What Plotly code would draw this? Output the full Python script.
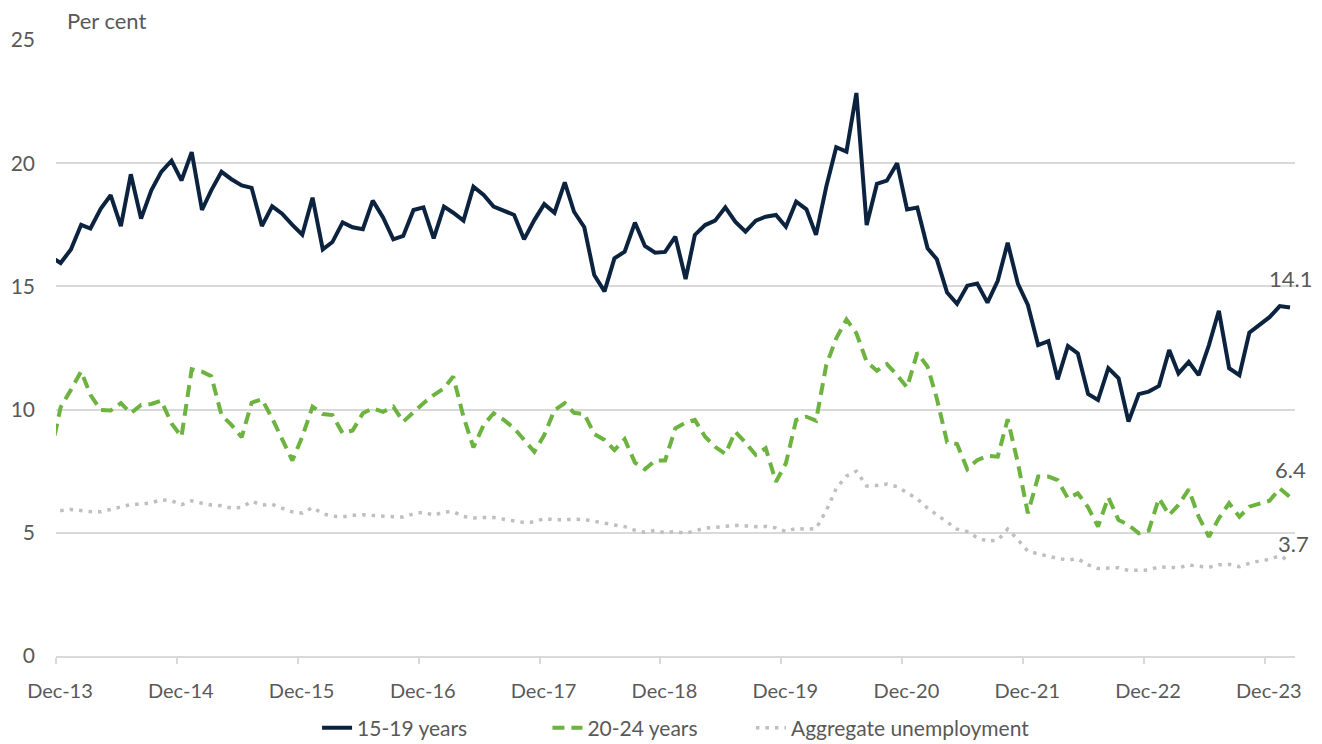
import pandas as pd
import plotly.graph_objects as go

# Monthly observations, Nov-13 to Feb-24 (plotted mid-month)
months = pd.date_range("2013-11-01", periods=124, freq="MS") + pd.Timedelta(days=14)

youth_15_19 = [
    16.2,
    15.95, 16.5, 17.5, 17.35, 18.15, 18.7, 17.45, 19.55, 17.75, 18.9, 19.65, 20.1,
    19.3, 20.45, 18.1, 18.9, 19.65, 19.35, 19.1, 19.0, 17.45, 18.25, 17.95, 17.5,
    17.1, 18.6, 16.5, 16.8, 17.6, 17.4, 17.32, 18.48, 17.8, 16.91, 17.05, 18.1,
    18.21, 16.95, 18.24, 17.99, 17.67, 19.05, 18.71, 18.24, 18.07, 17.9, 16.91, 17.69,
    18.34, 17.99, 19.22, 18.03, 17.4, 15.46, 14.8, 16.14, 16.41, 17.59, 16.64, 16.37,
    16.4, 17.02, 15.3, 17.09, 17.49, 17.67, 18.21, 17.63, 17.22, 17.67, 17.83, 17.9,
    17.42, 18.44, 18.13, 17.09, 19.05, 20.65, 20.47, 22.85, 17.49, 19.16, 19.29, 20.0,
    18.12, 18.2, 16.55, 16.1, 14.75, 14.29, 15.03, 15.12, 14.34, 15.23, 16.77, 15.1,
    14.25, 12.62, 12.78, 11.23, 12.58, 12.28, 10.63, 10.39, 11.68, 11.27, 9.51, 10.63,
    10.73, 10.96, 12.42, 11.47, 11.94, 11.4, 12.62, 14.01, 11.68, 11.4, 13.12, 13.43,
    13.75, 14.2, 14.14,
]

youth_20_24 = [
    8.2,
    10.1, 10.8, 11.55, 10.6, 9.98, 9.96, 10.26, 9.85, 10.19, 10.23, 10.36, 9.44,
    8.9, 11.64, 11.54, 11.36, 9.78, 9.38, 8.88, 10.28, 10.42, 9.65, 8.84, 7.93,
    8.9, 10.12, 9.82, 9.78, 9.04, 9.15, 9.85, 10.05, 9.91, 10.12, 9.51, 9.91,
    10.26, 10.59, 10.86, 11.34, 9.71, 8.47, 9.38, 9.85, 9.58, 9.24, 8.77, 8.29,
    8.97, 9.98, 10.26, 9.87, 9.82, 9.01, 8.77, 8.36, 8.8, 7.85, 7.58, 7.93,
    7.93, 9.24, 9.47, 9.58, 8.9, 8.49, 8.2, 9.1, 8.66, 8.16, 8.43, 7.07,
    7.82, 9.58, 9.71, 9.55, 11.81, 12.89, 13.66, 13.1, 11.94, 11.58, 11.85, 11.4,
    10.9, 12.31, 11.74, 10.45, 8.68, 8.6, 7.58, 7.95, 8.12, 8.09, 9.61, 7.82,
    5.79, 7.28, 7.28, 7.14, 6.4, 6.6, 6.03, 5.25, 6.44, 5.52, 5.32, 4.98,
    5.09, 6.4, 5.72, 6.13, 6.76, 5.65, 4.84, 5.59, 6.2, 5.65, 6.06, 6.17,
    6.3, 6.8, 6.45,
]

aggregate = [
    5.9,
    5.9, 5.95, 5.9, 5.86, 5.85, 5.95, 6.05, 6.15, 6.16, 6.22, 6.34, 6.3,
    6.14, 6.3, 6.2, 6.13, 6.1, 6.0, 6.03, 6.28, 6.13, 6.16, 6.0, 5.85,
    5.8, 6.03, 5.78, 5.67, 5.65, 5.71, 5.73, 5.7, 5.66, 5.65, 5.64, 5.77,
    5.84, 5.71, 5.84, 5.86, 5.66, 5.6, 5.62, 5.62, 5.55, 5.48, 5.42, 5.44,
    5.58, 5.52, 5.55, 5.55, 5.54, 5.46, 5.37, 5.32, 5.25, 5.1, 5.02, 5.1,
    5.0, 5.05, 4.98, 5.08, 5.19, 5.22, 5.25, 5.3, 5.28, 5.25, 5.26, 5.2,
    5.05, 5.18, 5.15, 5.17, 5.9, 6.8, 7.3, 7.5, 6.9, 6.92, 6.98, 6.87,
    6.63, 6.37, 6.0, 5.73, 5.45, 5.15, 5.05, 4.8, 4.66, 4.7, 5.15, 4.72,
    4.25, 4.14, 4.03, 3.96, 3.9, 3.94, 3.7, 3.55, 3.57, 3.58, 3.47, 3.49,
    3.49, 3.62, 3.6, 3.58, 3.69, 3.65, 3.6, 3.7, 3.72, 3.62, 3.76, 3.86,
    3.92, 4.07, 3.85,
]

series_names = ["15-19 years", "20-24 years", "Aggregate unemployment"]
tick_dates = [f"{y}-12-01" for y in range(2013, 2024)]
tick_labels = [f"Dec-{str(y)[2:]}" for y in range(2013, 2024)]
y_ticks = [0, 5, 10, 15, 20, 25]
end_labels = ["14.1", "6.4", "3.7"]

NAVY = "#0C2340"
GREEN = "#6CB33F"
GREY = "#BFBFBF"
TXT = "#595959"
GRID = "#D9D9D9"
FONT = "Lato"
NB = "\u00a0"
legend_pad = [14, 9, 0]

fig = go.Figure()
styles = [dict(color=NAVY, width=4),
          dict(color=GREEN, width=4, dash="12px,7px"),
          dict(color=GREY, width=3.5, dash="3.5px,6px")]
data = [youth_15_19, youth_20_24, aggregate]
for name, vals, st, pad in zip(series_names, data, styles, legend_pad):
    fig.add_trace(go.Scatter(x=months, y=vals, name=name + NB * pad, mode="lines", line=st))

shifts = [(0, 14), (0, 12), (3, 2)]
for s, lab, (dx, dy) in zip(data, end_labels, shifts):
    fig.add_annotation(x=months[-1], y=s[-1], text=lab, showarrow=False,
                       xanchor="center", yanchor="bottom", xshift=dx, yshift=dy,
                       font=dict(family=FONT, size=22, color=TXT))

fig.add_annotation(xref="paper", yref="paper", x=0.007, y=1.006, text="Per cent",
                   showarrow=False, xanchor="left", yanchor="bottom",
                   font=dict(family=FONT, size=22, color=TXT))

fig.update_layout(
    width=1322, height=744,
    margin=dict(l=48, r=35, t=32, b=96, autoexpand=False),
    paper_bgcolor="white", plot_bgcolor="white",
    font=dict(family=FONT, size=20, color=TXT),
    showlegend=True,
    legend=dict(orientation="h", x=0.2107, xanchor="left", y=-0.117, yanchor="middle",
                font=dict(family=FONT, size=21, color=TXT),
                traceorder="normal"),
    xaxis=dict(type="date", range=["2013-12-01", "2024-03-01"],
               tickvals=tick_dates, ticktext=tick_labels,
               showgrid=False, showline=True, linecolor=GRID, linewidth=1.5,
               ticks="outside", ticklen=6, tickcolor=GRID, tickwidth=1.5,
               ticklabelstandoff=10, ticklabelshift=4,
               tickfont=dict(family=FONT, size=20, color=TXT), zeroline=False),
    yaxis=dict(range=[0, 25], tickvals=y_ticks, showgrid=True, gridcolor=GRID,
               gridwidth=1.5, zeroline=False, showline=False, ticks="",
               ticklabelstandoff=20,
               tickfont=dict(family=FONT, size=21, color=TXT)),
)

fig.write_html("out.html")
